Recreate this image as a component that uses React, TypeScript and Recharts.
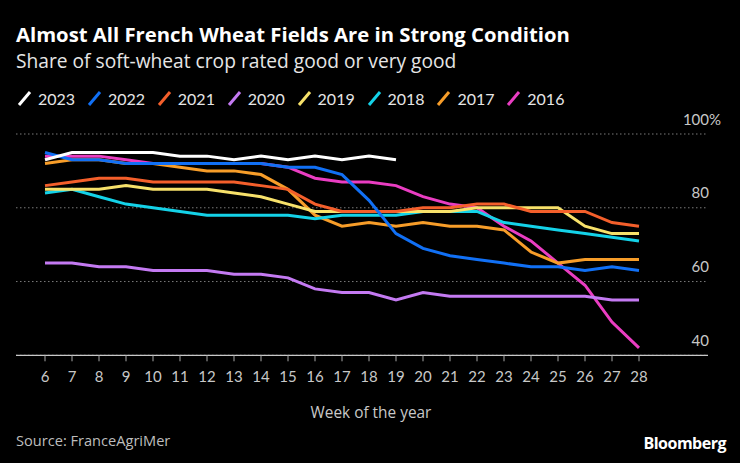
import React from "react";
import { LineChart, Line, XAxis, YAxis, CartesianGrid } from "recharts";

// weeks of the year on the x axis
const WEEKS = [6, 7, 8, 9, 10, 11, 12, 13, 14, 15, 16, 17, 18, 19, 20, 21, 22, 23, 24, 25, 26, 27, 28];
const Y_TICKS = [40, 60, 80, 100];

// share rated good / very good (%), one value per week; 2023 stops at week 19
const Y2023 = [93, 95, 95, 95, 95, 94, 94, 93, 94, 93, 94, 93, 94, 93];
const Y2022 = [95, 93, 93, 92, 92, 92, 92, 92, 92, 91, 91, 89, 82, 73, 69, 67, 66, 65, 64, 64, 63, 64, 63];
const Y2021 = [86, 87, 88, 88, 87, 87, 87, 87, 86, 85, 81, 79, 79, 79, 80, 80, 81, 81, 79, 79, 79, 76, 75];
const Y2020 = [65, 65, 64, 64, 63, 63, 63, 62, 62, 61, 58, 57, 57, 55, 57, 56, 56, 56, 56, 56, 56, 55, 55];
const Y2019 = [85, 85, 85, 86, 85, 85, 85, 84, 83, 81, 79, 79, 79, 79, 79, 79, 80, 80, 80, 80, 75, 73, 73];
const Y2018 = [84, 85, 83, 81, 80, 79, 78, 78, 78, 78, 77, 78, 78, 78, 79, 79, 79, 76, 75, 74, 73, 72, 71];
const Y2017 = [92, 93, 93, 92, 92, 91, 90, 90, 89, 85, 78, 75, 76, 75, 76, 75, 75, 74, 68, 65, 66, 66, 66];
const Y2016 = [94, 94, 94, 93, 92, 92, 92, 92, 92, 91, 88, 87, 87, 86, 83, 81, 80, 75, 71, 65, 59, 49, 42];

// legend order (newest first)
const SERIES = [
  { key: "y2023", name: "2023", values: Y2023, color: "#ffffff" },
  { key: "y2022", name: "2022", values: Y2022, color: "#1170f5" },
  { key: "y2021", name: "2021", values: Y2021, color: "#f45f2b" },
  { key: "y2020", name: "2020", values: Y2020, color: "#c47af2" },
  { key: "y2019", name: "2019", values: Y2019, color: "#f7e16a" },
  { key: "y2018", name: "2018", values: Y2018, color: "#14d2e8" },
  { key: "y2017", name: "2017", values: Y2017, color: "#f79d29" },
  { key: "y2016", name: "2016", values: Y2016, color: "#ea3dc2" },
];

const data = WEEKS.map((w, i) => {
  const row: Record<string, number | undefined> = { week: w };
  SERIES.forEach((s) => {
    row[s.key] = s.values[i];
  });
  return row;
});

const FONT = "'Open Sans', 'Noto Sans', sans-serif";
const NUM_FONT = "Lato, 'Open Sans', sans-serif";
const MARGIN = { top: 134, right: 32, bottom: 77.7, left: 16 };
const PLOT_RIGHT = 740 - MARGIN.right;

function YTick(props: any) {
  const { y, payload } = props;
  const ty = y - 9.5;
  return (
    <g>
      <text x={PLOT_RIGHT + 1} y={ty} textAnchor="end" fill="#c8c8c8" fontSize={15} fontFamily={NUM_FONT}>
        {payload.value}
      </text>
      {payload.value === 100 && (
        <text x={PLOT_RIGHT + 1} y={ty} fill="#c8c8c8" fontSize={15} fontFamily={NUM_FONT}>
          %
        </text>
      )}
    </g>
  );
}

function Swatch({ color }: { color: string }) {
  return (
    <svg width={16} height={16} style={{ position: "absolute", left: 0, top: 0 }}>
      <line x1={2} y1={15} x2={13} y2={2} stroke={color} strokeWidth={3} />
    </svg>
  );
}

export default function App() {
  return (
    <div
      style={{
        position: "absolute",
        left: 0,
        top: 0,
        width: 740,
        height: 463,
        background: "#000",
        fontFamily: FONT,
        overflow: "hidden",
      }}
    >
      <div style={{ position: "absolute", left: 16, top: 24.3, fontSize: 20.3, lineHeight: 1, fontWeight: 700, color: "#fff", whiteSpace: "nowrap" }}>
        Almost All French Wheat Fields Are in Strong Condition
      </div>
      <div style={{ position: "absolute", left: 16, top: 50.6, fontSize: 19.2, lineHeight: 1, color: "#e6e6e6", whiteSpace: "nowrap" }}>
        Share of soft-wheat crop rated good or very good
      </div>

      {SERIES.map((s, i) => (
        <div key={s.key} style={{ position: "absolute", left: 17 + i * 69.9, top: 90, width: 70, height: 18 }}>
          <Swatch color={s.color} />
          <span style={{ position: "absolute", left: 21, top: 0.8, fontSize: 16, lineHeight: 1, color: "#e6e6e6", fontFamily: NUM_FONT }}>
            {s.name}
          </span>
        </div>
      ))}

      <div style={{ position: "absolute", left: 0, top: 0 }}>
        <LineChart width={740} height={463} data={data} margin={MARGIN}>
          <CartesianGrid horizontal vertical={false} stroke="#7a7a7a" strokeDasharray="1.5 2.5" />
          <XAxis
            dataKey="week"
            type="number"
            domain={[6, 28]}
            ticks={WEEKS}
            interval={0}
            padding={{ left: 29, right: 69 }}
            height={30}
            axisLine={{ stroke: "#c8c8c8", strokeWidth: 1.2 }}
            tickLine={{ stroke: "#a8a8a8" }}
            tickSize={6}
            tickMargin={10}
            tick={{ fill: "#c8c8c8", fontSize: 15, fontFamily: NUM_FONT }}
          />
          <YAxis
            orientation="right"
            mirror
            domain={[40, 100]}
            ticks={Y_TICKS}
            axisLine={false}
            tickLine={false}
            tick={<YTick />}
          />
          {[...SERIES].reverse().map((s) => (
            <Line
              key={s.key}
              dataKey={s.key}
              type="linear"
              stroke={s.color}
              strokeWidth={3}
              dot={false}
              activeDot={false}
              isAnimationActive={false}
            />
          ))}
        </LineChart>
      </div>

      <div style={{ position: "absolute", left: 1, width: 740, top: 404.5, textAlign: "center", fontSize: 15.4, lineHeight: 1, color: "#c8c8c8" }}>
        Week of the year
      </div>
      <div style={{ position: "absolute", left: 16, top: 433, fontSize: 14.6, lineHeight: 1, color: "#bdbdbd" }}>
        Source: FranceAgriMer
      </div>
      <div style={{ position: "absolute", right: 14, top: 435.3, fontSize: 16, lineHeight: 1, fontWeight: 700, color: "#fff", letterSpacing: -0.5 }}>
        Bloomberg
      </div>
    </div>
  );
}
